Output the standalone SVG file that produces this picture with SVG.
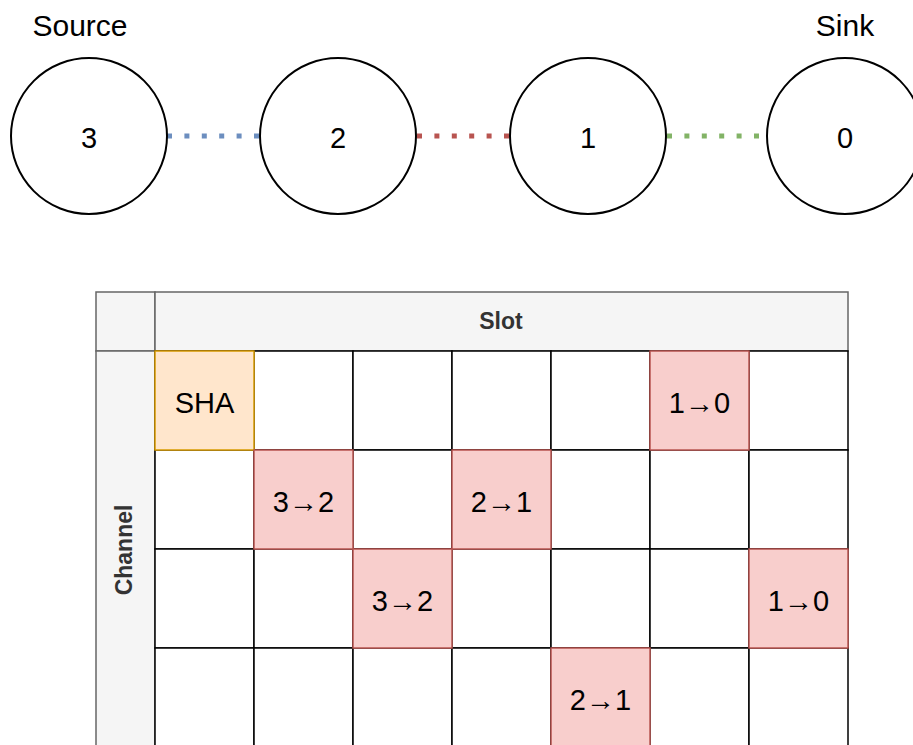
<svg xmlns="http://www.w3.org/2000/svg" width="913" height="745" viewBox="0 0 913 745">
<style>
.node{fill:#ffffff;stroke:#000000;stroke-width:2}
.lbl{font-family:"Liberation Sans",Arial,sans-serif;fill:#000000;text-anchor:middle}
.big{font-size:30px}
.num{font-size:29px}
.hdr{fill:#f5f5f5;stroke:#666666;stroke-width:1.5}
.ht{font-family:"Liberation Sans",Arial,sans-serif;font-size:23px;font-weight:bold;fill:#333333;text-anchor:middle}
.cell{fill:#ffffff;stroke:#000000;stroke-width:1.5}
.red{fill:#f8cecc;stroke:#b85450;stroke-width:1.5}
.org{fill:#ffe6cc;stroke:#d79b00;stroke-width:1.5}
.ct{font-family:"Liberation Sans",Arial,sans-serif;font-size:29px;fill:#000000;text-anchor:middle}
.dot{stroke-width:5;stroke-dasharray:5 12.4;fill:none}
</style>
<rect x="0" y="0" width="913" height="745" fill="#ffffff"/>
<text class="lbl big" x="80" y="36">Source</text>
<text class="lbl big" x="845" y="36">Sink</text>
<g id="connectors">
<line class="dot" x1="167" y1="136" x2="260" y2="136" stroke="#6c8ebf"/>
<line class="dot" x1="417" y1="136" x2="510" y2="136" stroke="#b85450"/>
<line class="dot" x1="667" y1="136" x2="767" y2="136" stroke="#82b366"/>
</g>
<g id="node3"><circle class="node" cx="89" cy="136" r="78"/><text class="lbl num" x="89" y="148">3</text></g>
<g id="node2"><circle class="node" cx="338" cy="136" r="78"/><text class="lbl num" x="338" y="148">2</text></g>
<g id="node1"><circle class="node" cx="588" cy="136" r="78"/><text class="lbl num" x="588" y="148">1</text></g>
<g id="node0"><circle class="node" cx="845" cy="136" r="78"/><text class="lbl num" x="845" y="148">0</text></g>
<g id="table">
<rect class="hdr" x="96" y="292" width="59" height="59"/>
<rect class="hdr" x="155" y="292" width="693" height="59"/>
<rect class="hdr" x="96" y="351" width="59" height="420"/>
<text class="ht" x="501" y="329">Slot</text>
<text class="ht" transform="translate(132,550) rotate(-90)" x="0" y="0">Channel</text>
<g id="grid">
<rect class="cell" x="155" y="351" width="99" height="99"/><rect class="cell" x="254" y="351" width="99" height="99"/><rect class="cell" x="353" y="351" width="99" height="99"/><rect class="cell" x="452" y="351" width="99" height="99"/><rect class="cell" x="551" y="351" width="99" height="99"/><rect class="cell" x="650" y="351" width="99" height="99"/><rect class="cell" x="749" y="351" width="99" height="99"/>
<rect class="cell" x="155" y="450" width="99" height="99"/><rect class="cell" x="254" y="450" width="99" height="99"/><rect class="cell" x="353" y="450" width="99" height="99"/><rect class="cell" x="452" y="450" width="99" height="99"/><rect class="cell" x="551" y="450" width="99" height="99"/><rect class="cell" x="650" y="450" width="99" height="99"/><rect class="cell" x="749" y="450" width="99" height="99"/>
<rect class="cell" x="155" y="549" width="99" height="99"/><rect class="cell" x="254" y="549" width="99" height="99"/><rect class="cell" x="353" y="549" width="99" height="99"/><rect class="cell" x="452" y="549" width="99" height="99"/><rect class="cell" x="551" y="549" width="99" height="99"/><rect class="cell" x="650" y="549" width="99" height="99"/><rect class="cell" x="749" y="549" width="99" height="99"/>
<rect class="cell" x="155" y="648" width="99" height="99"/><rect class="cell" x="254" y="648" width="99" height="99"/><rect class="cell" x="353" y="648" width="99" height="99"/><rect class="cell" x="452" y="648" width="99" height="99"/><rect class="cell" x="551" y="648" width="99" height="99"/><rect class="cell" x="650" y="648" width="99" height="99"/><rect class="cell" x="749" y="648" width="99" height="99"/>
</g>
<g id="sha"><rect class="org" x="155" y="351" width="99" height="99"/><text class="ct" x="204.5" y="413">SHA</text></g>
<g id="c10a"><rect class="red" x="650" y="351" width="99" height="99"/><text class="ct" x="699.5" y="413">1→0</text></g>
<g id="c32a"><rect class="red" x="254" y="450" width="99" height="99"/><text class="ct" x="303.5" y="512">3→2</text></g>
<g id="c21a"><rect class="red" x="452" y="450" width="99" height="99"/><text class="ct" x="501.5" y="512">2→1</text></g>
<g id="c32b"><rect class="red" x="353" y="549" width="99" height="99"/><text class="ct" x="402.5" y="611">3→2</text></g>
<g id="c10b"><rect class="red" x="749" y="549" width="99" height="99"/><text class="ct" x="798.5" y="611">1→0</text></g>
<g id="c21b"><rect class="red" x="551" y="648" width="99" height="99"/><text class="ct" x="600.5" y="710">2→1</text></g>
</g>
</svg>
